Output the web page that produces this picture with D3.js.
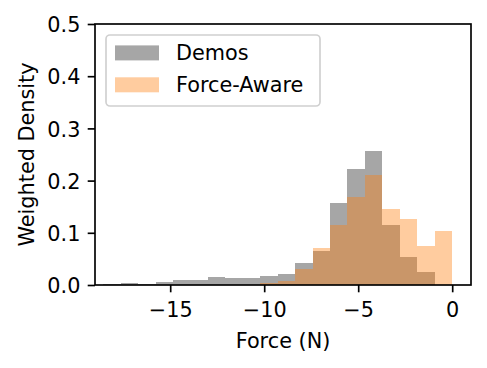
<!DOCTYPE html>
<html>
<head>
<meta charset="utf-8">
<script src="https://cdn.jsdelivr.net/npm/d3@7"></script>
<style>
  html, body { margin: 0; padding: 0; background: #fff; }
  svg { display: block; font-family: "DejaVu Sans", sans-serif; }
</style>
</head>
<body>
<svg id="chart" width="487" height="368"></svg>
<script>
// ---- data ----
const binEdges = [-18.56, -17.63, -16.70, -15.78, -14.85, -13.92, -12.99, -12.06, -11.14, -10.21,
                  -9.28, -8.35, -7.42, -6.50, -5.57, -4.64, -3.71, -2.78, -1.86, -0.93, 0];
const demosDensity = [0.002, 0.0045, 0.002, 0.0064, 0.009, 0.009, 0.015, 0.013, 0.013, 0.0167,
                      0.021, 0.0415, 0.0657, 0.1577, 0.2216, 0.257, 0.115, 0.054, 0.0255, 0];
const forceAwareDensity = [0, 0, 0, 0, 0, 0, 0, 0, 0, 0.003,
                           0.0077, 0.030, 0.0709, 0.115, 0.169, 0.210, 0.146, 0.127, 0.0747, 0.1028];
const seriesNames = ["Demos", "Force-Aware"];
const xTicks = [-15, -10, -5, 0];
const yTicks = [0, 0.1, 0.2, 0.3, 0.4, 0.5];
const xLabel = "Force (N)";
const yLabel = "Weighted Density";

// ---- layout ----
const FS = 20.8;
const pL = 95, pR = 471, pT = 24, pB = 285;
const svg = d3.select("#chart");

const x = d3.scaleLinear().domain([-19, 1]).range([pL, pR]);
const y = d3.scaleLinear().domain([0, 0.5]).range([pB, pT]);

const colors = { demos: "rgba(128,128,128,0.7)", fa: "rgba(255,127,14,0.4)" };

function bars(vals, color) {
  const data = vals.map((v, i) => ({ x0: binEdges[i], x1: binEdges[i + 1], v }));
  svg.append("g").selectAll("rect").data(data.filter(d => d.v > 0)).join("rect")
    .attr("x", d => x(d.x0))
    .attr("width", d => x(d.x1) - x(d.x0))
    .attr("y", d => y(d.v))
    .attr("height", d => y(0) - y(d.v))
    .attr("fill", color)
    .attr("shape-rendering", "crispEdges");
}
bars(demosDensity, colors.demos);
bars(forceAwareDensity, colors.fa);

// axes
const xAxis = svg.append("g").attr("transform", `translate(0,${pB})`)
  .call(d3.axisBottom(x).tickValues(xTicks).tickFormat(d3.format("d")).tickSize(7.3).tickPadding(5));
const yAxis = svg.append("g").attr("transform", `translate(${pL},0)`)
  .call(d3.axisLeft(y).tickValues(yTicks).tickFormat(d3.format(".1f")).tickSize(7.3).tickPadding(7.3));
[xAxis, yAxis].forEach(a => {
  a.select(".domain").remove();
  a.selectAll(".tick line").attr("stroke", "#000").attr("stroke-width", 1.67);
  a.selectAll(".tick text").attr("fill", "#000").attr("font-size", FS)
    .attr("font-family", "DejaVu Sans");
});
xAxis.selectAll(".tick text").attr("dy", null).attr("y", 32.3);
yAxis.selectAll(".tick text").attr("dy", null).attr("y", 7.6);

// spines
svg.append("rect").attr("x", pL).attr("y", pT)
  .attr("width", pR - pL).attr("height", pB - pT)
  .attr("fill", "none").attr("stroke", "#000").attr("stroke-width", 1.67);

// axis labels
svg.append("text").attr("x", (pL + pR) / 2).attr("y", 348)
  .attr("text-anchor", "middle").attr("font-size", FS).text(xLabel);
svg.append("text").attr("transform", `translate(34,${(pT + pB) / 2}) rotate(-90)`)
  .attr("text-anchor", "middle").attr("font-size", FS).text(yLabel);

// legend
const lg = svg.append("g");
lg.append("rect").attr("x", 106).attr("y", 35).attr("width", 214).attr("height", 71)
  .attr("rx", 4).attr("fill", "rgba(255,255,255,0.8)")
  .attr("stroke", "#d0d0d0").attr("stroke-width", 1.67);
const legItems = [
  { name: seriesNames[0], color: colors.demos, cy: 52.9 },
  { name: seriesNames[1], color: colors.fa, cy: 84.8 }
];
legItems.forEach(it => {
  lg.append("rect").attr("x", 115).attr("y", it.cy - 7.5).attr("width", 44).attr("height", 15)
    .attr("fill", it.color);
  lg.append("text").attr("x", 176).attr("y", it.cy + 7.2).attr("font-size", FS).text(it.name);
});
</script>
</body>
</html>
